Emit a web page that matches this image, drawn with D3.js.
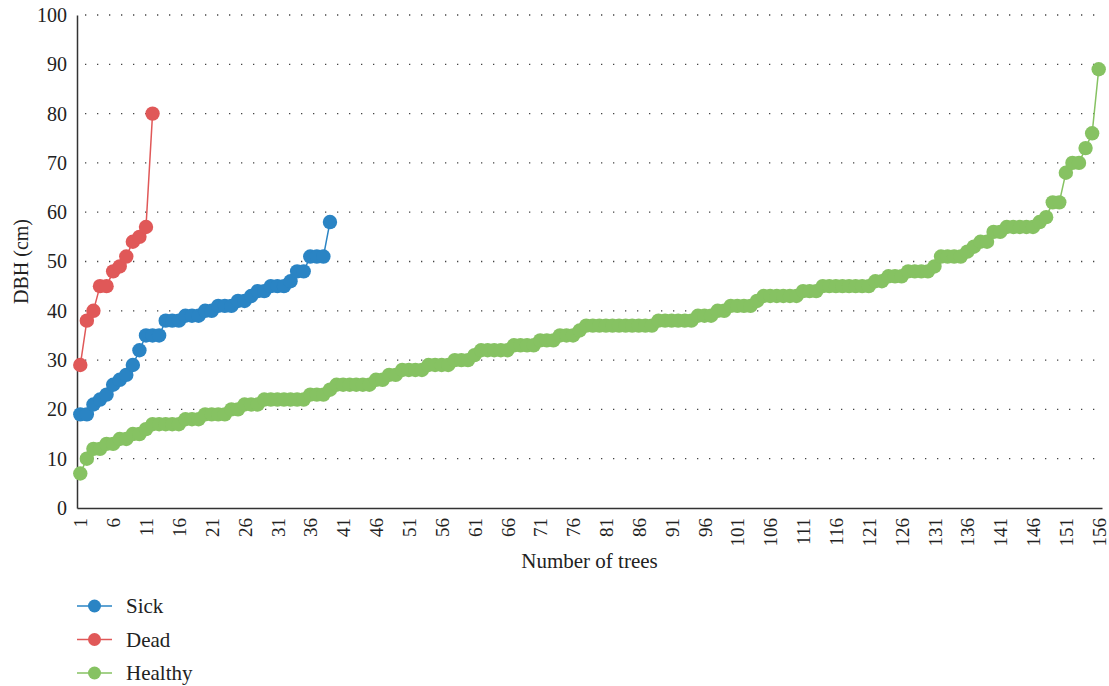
<!DOCTYPE html>
<html>
<head>
<meta charset="utf-8">
<script src="https://cdn.jsdelivr.net/npm/d3@7"></script>
<style>
  body { margin: 0; background: #fff; }
  svg text { font-family: "Liberation Serif", "DejaVu Serif", serif; fill: #222; }
</style>
</head>
<body>
<svg id="chart" width="1109" height="686"></svg>
<script>
// DBH values per tree, sorted
var sick = [19, 19, 21, 22, 23, 25, 26, 27, 29, 32, 35, 35, 35, 38, 38, 38, 39, 39, 39, 40,
            40, 41, 41, 41, 42, 42, 43, 44, 44, 45, 45, 45, 46, 48, 48, 51, 51, 51, 58];
var dead = [29, 38, 40, 45, 45, 48, 49, 51, 54, 55, 57, 80];
var healthy = [7, 10, 12, 12, 13, 13, 14, 14, 15, 15, 16, 17, 17, 17, 17, 17, 18, 18, 18, 19,
               19, 19, 19, 20, 20, 21, 21, 21, 22, 22, 22, 22, 22, 22, 22, 23, 23, 23, 24, 25,
               25, 25, 25, 25, 25, 26, 26, 27, 27, 28, 28, 28, 28, 29, 29, 29, 29, 30, 30, 30,
               31, 32, 32, 32, 32, 32, 33, 33, 33, 33, 34, 34, 34, 35, 35, 35, 36, 37, 37, 37,
               37, 37, 37, 37, 37, 37, 37, 37, 38, 38, 38, 38, 38, 38, 39, 39, 39, 40, 40, 41,
               41, 41, 41, 42, 43, 43, 43, 43, 43, 43, 44, 44, 44, 45, 45, 45, 45, 45, 45, 45,
               45, 46, 46, 47, 47, 47, 48, 48, 48, 48, 49, 51, 51, 51, 51, 52, 53, 54, 54, 56,
               56, 57, 57, 57, 57, 57, 58, 59, 62, 62, 68, 70, 70, 73, 76, 89];

var seriesNames = ["Sick", "Dead", "Healthy"];
var seriesColors = {"Sick": "#2a84c4", "Dead": "#e05858", "Healthy": "#86c262"};
var yTicks = [0, 10, 20, 30, 40, 50, 60, 70, 80, 90, 100];
var nTrees = healthy.length;
var treeIdx = d3.range(1, nTrees + 1);
var xTickVals = treeIdx.filter(d => (d - 1) % 5 == 0);

var margin = {top: 15, right: 7, bottom: 178, left: 77};
var width = 1109;
var height = 686;

var svg = d3.select("#chart");

var x = d3.scalePoint()
  .domain(treeIdx)
  .range([margin.left, width - margin.right])
  .padding(0.5);

var y = d3.scaleLinear()
  .domain([0, 100])
  .range([height - margin.bottom, margin.top]);

// dotted gridlines
svg.append("g")
  .selectAll("line")
  .data(yTicks.filter(d => d > 0))
  .enter()
  .append("line")
  .attr("x1", margin.left + 8)
  .attr("x2", width - margin.right)
  .attr("y1", d => y(d))
  .attr("y2", d => y(d))
  .attr("stroke", "#444")
  .attr("stroke-width", 1.3)
  .attr("stroke-dasharray", "1.3,10.7");

// y axis
var yAxis = svg.append("g")
  .attr("transform", "translate(" + margin.left + ",0)")
  .call(d3.axisLeft(y).tickValues(yTicks).tickSize(0).tickPadding(10));
yAxis.select(".domain").attr("stroke", "#333").attr("stroke-width", 1.5);
yAxis.selectAll("text").style("font-size", "20px").attr("fill", "#222");

// x axis
var xAxis = svg.append("g")
  .attr("transform", "translate(0," + y(0) + ")")
  .call(d3.axisBottom(x).tickValues(xTickVals).tickSize(0));
xAxis.select(".domain").attr("stroke", "#333").attr("stroke-width", 1.5);
xAxis.selectAll("text")
  .style("font-size", "19px")
  .attr("fill", "#222")
  .attr("text-anchor", "end")
  .attr("transform", "rotate(-90)")
  .attr("x", -10)
  .attr("y", 0)
  .attr("dy", "0.35em");

// axis titles
svg.append("text")
  .attr("x", (x(1) + x(nTrees)) / 2)
  .attr("y", 568)
  .attr("text-anchor", "middle")
  .style("font-size", "21px")
  .text("Number of trees");

svg.append("text")
  .attr("transform", "translate(28," + y(50) + ") rotate(-90)")
  .attr("text-anchor", "middle")
  .style("font-size", "20px")
  .text("DBH (cm)");

// series
var seriesData = {"Sick": sick, "Dead": dead, "Healthy": healthy};

var line = d3.line()
  .x((d, i) => x(i + 1))
  .y(d => y(d));

seriesNames.forEach(function(name) {
  var vals = seriesData[name];
  var g = svg.append("g");
  g.append("path")
    .attr("d", line(vals))
    .attr("fill", "none")
    .attr("stroke", seriesColors[name])
    .attr("stroke-width", 1.5);
  g.selectAll("circle")
    .data(vals)
    .enter()
    .append("circle")
    .attr("cx", (d, i) => x(i + 1))
    .attr("cy", d => y(d))
    .attr("r", 7.2)
    .attr("fill", seriesColors[name]);
});

// legend
var legend = svg.append("g")
  .selectAll("g")
  .data(seriesNames)
  .enter()
  .append("g")
  .attr("transform", (d, i) => "translate(77," + (606 + i * 33.5) + ")");

legend.append("line")
  .attr("x1", 0)
  .attr("x2", 35)
  .attr("stroke", d => seriesColors[d])
  .attr("stroke-width", 1.5);
legend.append("circle")
  .attr("cx", 17.5)
  .attr("r", 6.5)
  .attr("fill", d => seriesColors[d]);
legend.append("text")
  .attr("x", 49)
  .attr("dy", "0.35em")
  .style("font-size", "21px")
  .text(d => d);
</script>
</body>
</html>
